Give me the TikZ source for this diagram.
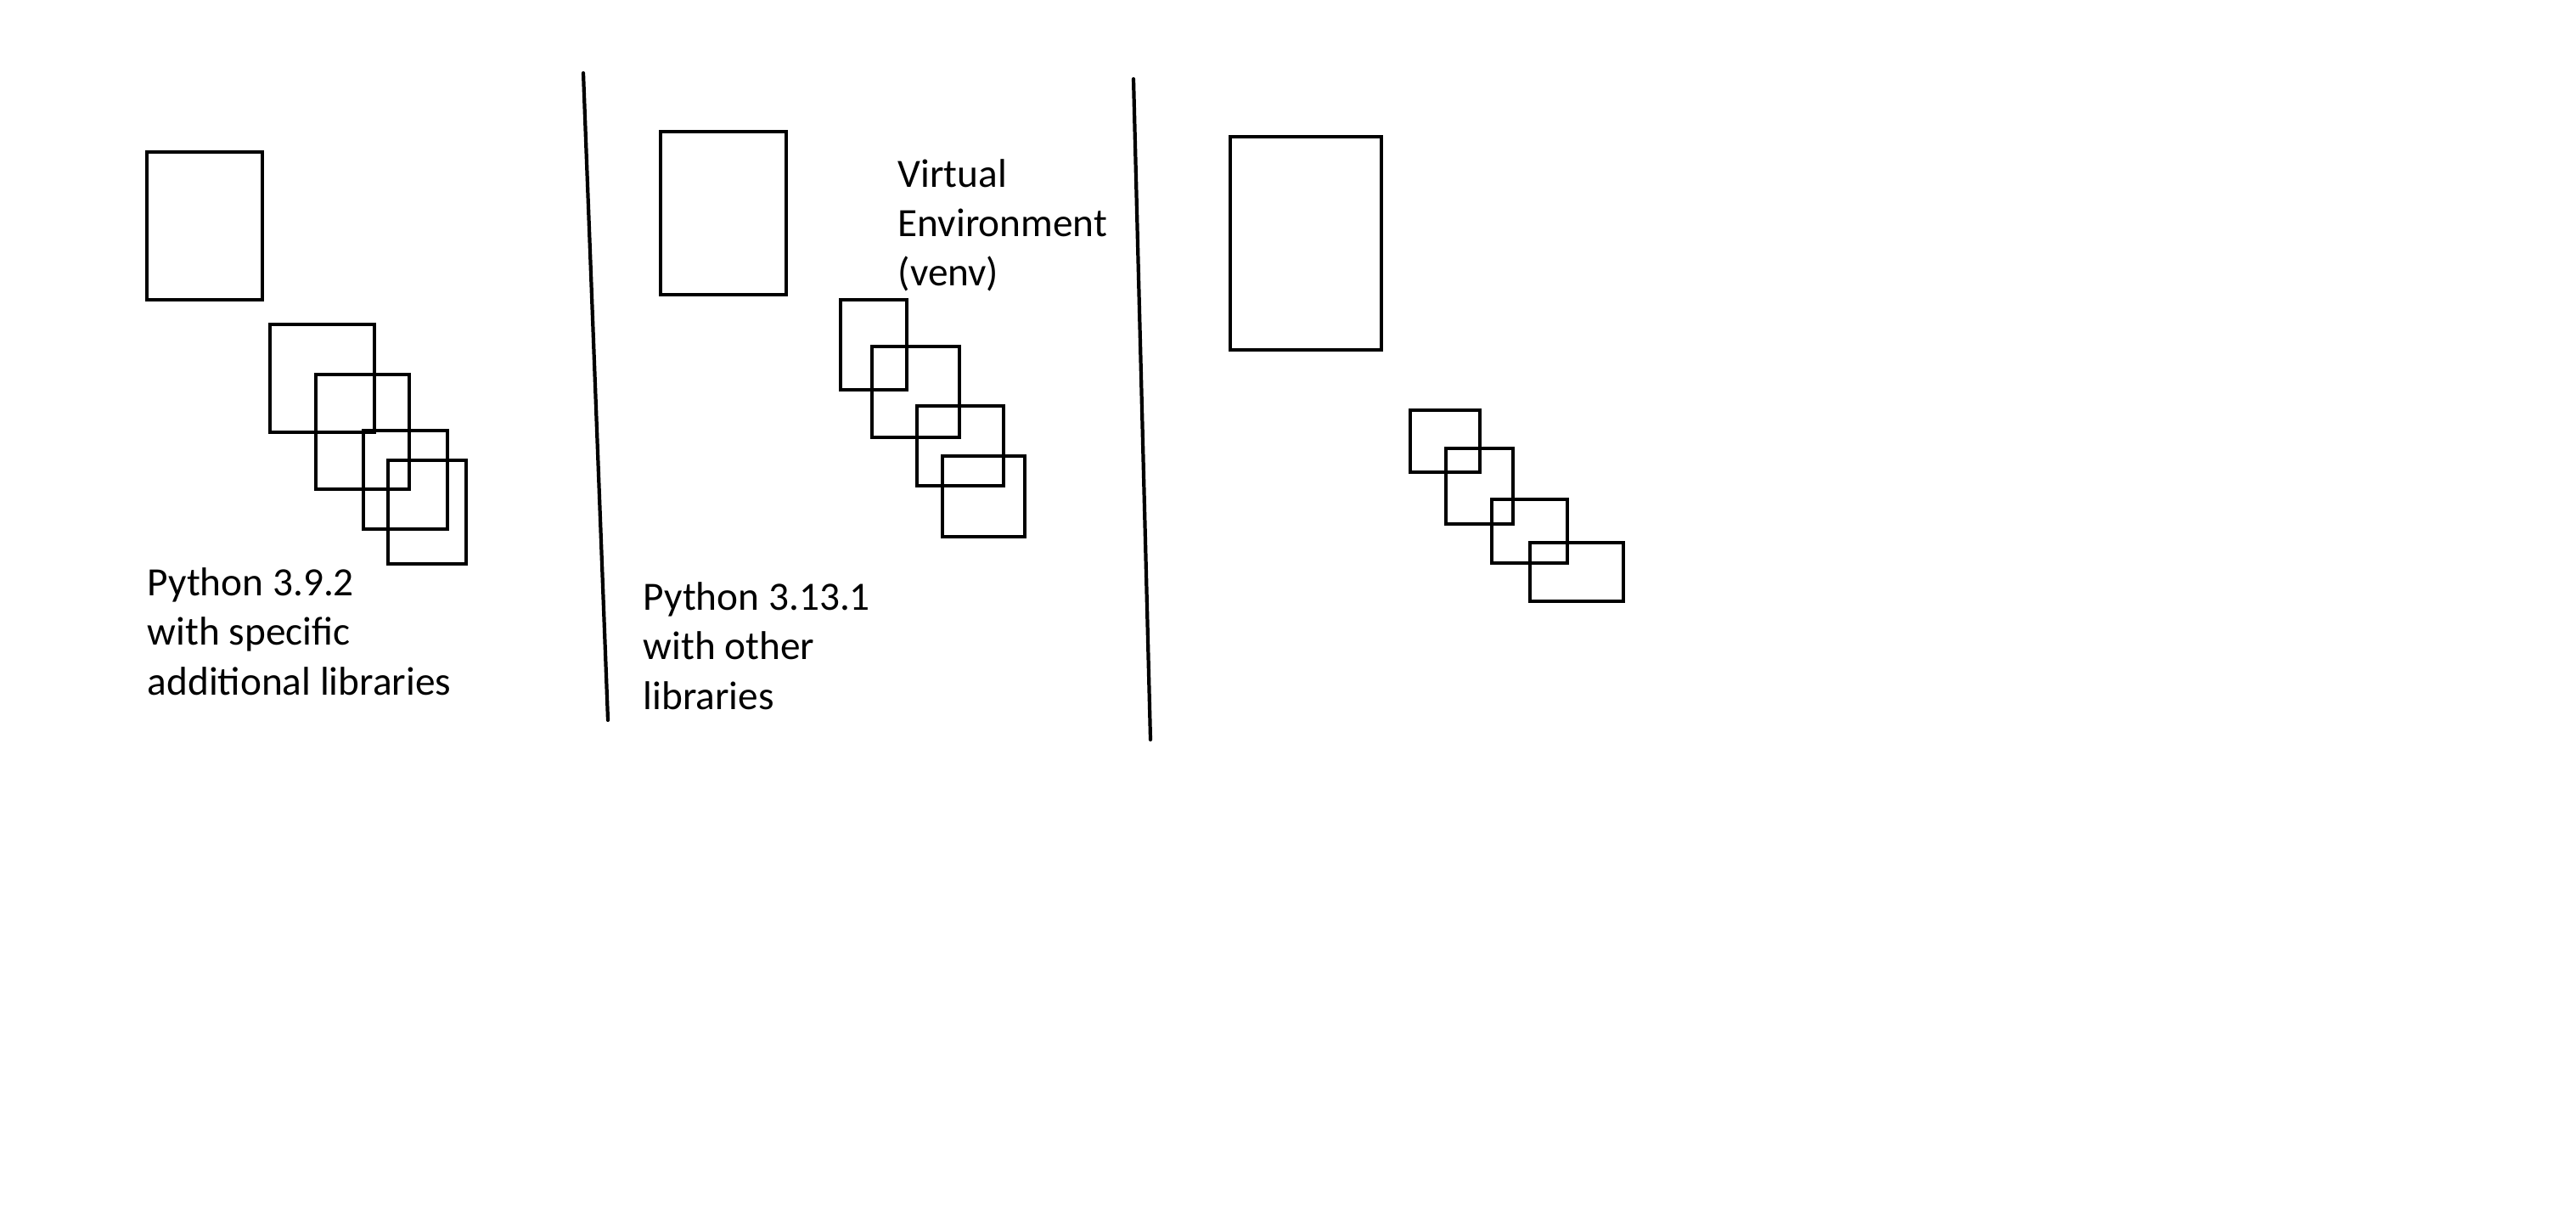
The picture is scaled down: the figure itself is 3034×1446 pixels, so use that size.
\documentclass[tikz,border=0pt]{standalone}
\usepackage{fontspec}
\setmainfont{Carlito}
\usepackage{tikz}
\usetikzlibrary{positioning}

\begin{document}
\begin{tikzpicture}[x=0.01cm,y=-0.01cm,
    frame/.style={draw,line width=1.2pt},
    divider/.style={draw,line width=1.2pt,line cap=round},
    label/.style={anchor=base west,inner sep=0pt,align=left,
      font=\fontsize{13.45pt}{16.5pt}\selectfont}]
  \useasboundingbox (0,0) rectangle (3034,1446);

  % left column: plain python
  \draw[frame] (173,179) rectangle (309,353);
  \draw[frame] (318,382) rectangle (441,509);
  \draw[frame] (372,441) rectangle (482,576);
  \draw[frame] (428,507) rectangle (527,623);
  \draw[frame] (457,542) rectangle (549,664);
  \node[label] (pyold) at (173,818)
    {Python 3.9.2\\with specific\\additional libraries};

  \coordinate (divA top) at (687,86);
  \coordinate (divA bot) at (716,848);
  \draw[divider] (divA top) -- (divA bot);

  % middle column: venv
  \draw[frame] (778,155) rectangle (926,347);
  \draw[frame] (990,353) rectangle (1068,459);
  \draw[frame] (1027,408) rectangle (1130,515);
  \draw[frame] (1080,478) rectangle (1182,572);
  \draw[frame] (1110,537) rectangle (1207,632);
  \node[label] (venv) at (1057,337)
    {Virtual\\Environment\\(venv)};
  \node[label] (pynew) at (757,835)
    {Python 3.13.1\\with other\\libraries};

  \coordinate (divB top) at (1335,93);
  \coordinate (divB bot) at (1355,871);
  \draw[divider] (divB top) -- (divB bot);

  % right column
  \draw[frame] (1449,161) rectangle (1627,412);
  \draw[frame] (1661,483) rectangle (1743,556);
  \draw[frame] (1703,528) rectangle (1782,617);
  \draw[frame] (1757,588) rectangle (1846,663);
  \draw[frame] (1802,639) rectangle (1912,708);
\end{tikzpicture}
\end{document}
